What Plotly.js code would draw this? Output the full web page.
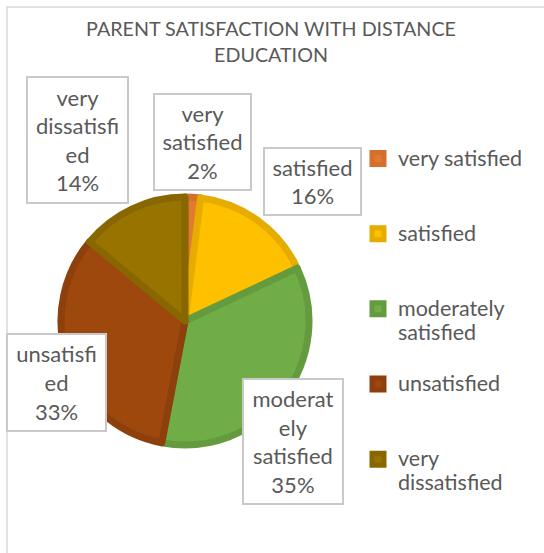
<!DOCTYPE html>
<html>
<head>
<meta charset="utf-8">
<script src="https://cdn.plot.ly/plotly-3.0.1.min.js"></script>
<style>
  html, body { margin: 0; padding: 0; background: #ffffff; }
  #chart { width: 544px; height: 553px; }
</style>
</head>
<body>
<div id="chart"></div>
<script>
// ---- data ----
const categories = ["very satisfied", "satisfied", "moderately satisfied", "unsatisfied", "very dissatisfied"];
const values = [2, 16, 35, 33, 14];
// data-label text as wrapped in the original boxes
const boxText = ["very<br>satisfied", "satisfied", "moderat<br>ely<br>satisfied", "unsatisfi<br>ed", "very<br>dissatisfi<br>ed"];
const fillColors = ["#E27933", "#FFC000", "#70AD47", "#9E480E", "#997300"];
const edgeColors = ["#D46F2C", "#E6AD00", "#649B3F", "#8D400C", "#886700"];
const titleText = "PARENT SATISFACTION WITH DISTANCE<br>EDUCATION";

// ---- helpers ----
const W = 544, H = 553;
const px = v => v / W;
const py = v => 1 - v / H;

function wrapWords(s, maxChars) {
  const words = s.split(" ");
  const lines = [];
  let cur = "";
  words.forEach(w => {
    if (cur === "") cur = w;
    else if ((cur + " " + w).length <= maxChars) cur += " " + w;
    else { lines.push(cur); cur = w; }
  });
  if (cur) lines.push(cur);
  return lines;
}
// legend entries: wrapped, padded to equal height so entries are evenly spaced
const legendLabels = categories.map(c => {
  const lines = wrapWords(c, 14);
  while (lines.length < 3) lines.push("&nbsp;");
  return lines.map(l => '<span style="font-size:21.5px">' + l + '</span>').join("<br>");
});

const total = values.reduce((a, b) => a + b, 0);

const trace = {
  type: "pie",
  labels: legendLabels,
  values: values,
  sort: false,
  direction: "clockwise",
  rotation: 0,
  textinfo: "none",
  hoverinfo: "skip",
  marker: { colors: fillColors, line: { color: edgeColors, width: 7 } },
  domain: { x: [px(185 - 124), px(185 + 124)], y: [py(321 + 124), py(321 - 124)] }
};

// data-label boxes
const boxes = [
  { cx: 202.5, cy: 142, w: 97, h: 96 },
  { cx: 312.5, cy: 181.5, w: 97, h: 67 },
  { cx: 293, cy: 441.5, w: 100, h: 125 },
  { cx: 56.5, cy: 382.5, w: 99, h: 97 },
  { cx: 77.5, cy: 140, w: 101, h: 126 }
];
const annotations = categories.map((c, i) => ({
  xref: "paper", yref: "paper",
  x: px(boxes[i].cx), y: py(boxes[i].cy),
  xanchor: "center", yanchor: "middle",
  showarrow: false,
  text: boxText[i] + "<br>" + Math.round(values[i] / total * 100) + "%",
  width: boxes[i].w - 2, height: boxes[i].h - 2,
  align: "center", valign: "middle",
  bgcolor: "#ffffff", bordercolor: "#C9C9C9", borderwidth: 2, borderpad: 0,
  font: { family: "Lato, 'Open Sans', sans-serif", size: 22, color: "#595959" }
}));

const layout = {
  width: W, height: H,
  margin: { l: 0, r: 0, t: 0, b: 0 },
  paper_bgcolor: "#ffffff",
  title: {
    text: titleText,
    x: px(271), xanchor: "center",
    y: py(36), yanchor: "middle", yref: "container",
    font: { family: "Lato, 'Open Sans', sans-serif", size: 19.7, color: "#595959" }
  },
  showlegend: true,
  legend: {
    x: px(358), xanchor: "left",
    y: py(140), yanchor: "top",
    valign: "top",
    bgcolor: "rgba(0,0,0,0)",
    font: { family: "Lato, 'Open Sans', sans-serif", size: 18.5, color: "#595959" },
    traceorder: "normal"
  },
  shapes: [
    { type: "rect", xref: "paper", yref: "paper",
      x0: px(7), x1: px(W + 20), y0: py(H + 20), y1: py(7),
      line: { color: "#D9D9D9", width: 1.5 }, fillcolor: "rgba(0,0,0,0)", layer: "below" }
  ],
  annotations: annotations
};

Plotly.newPlot("chart", [trace], layout, { displayModeBar: false, staticPlot: true });
</script>
</body>
</html>
